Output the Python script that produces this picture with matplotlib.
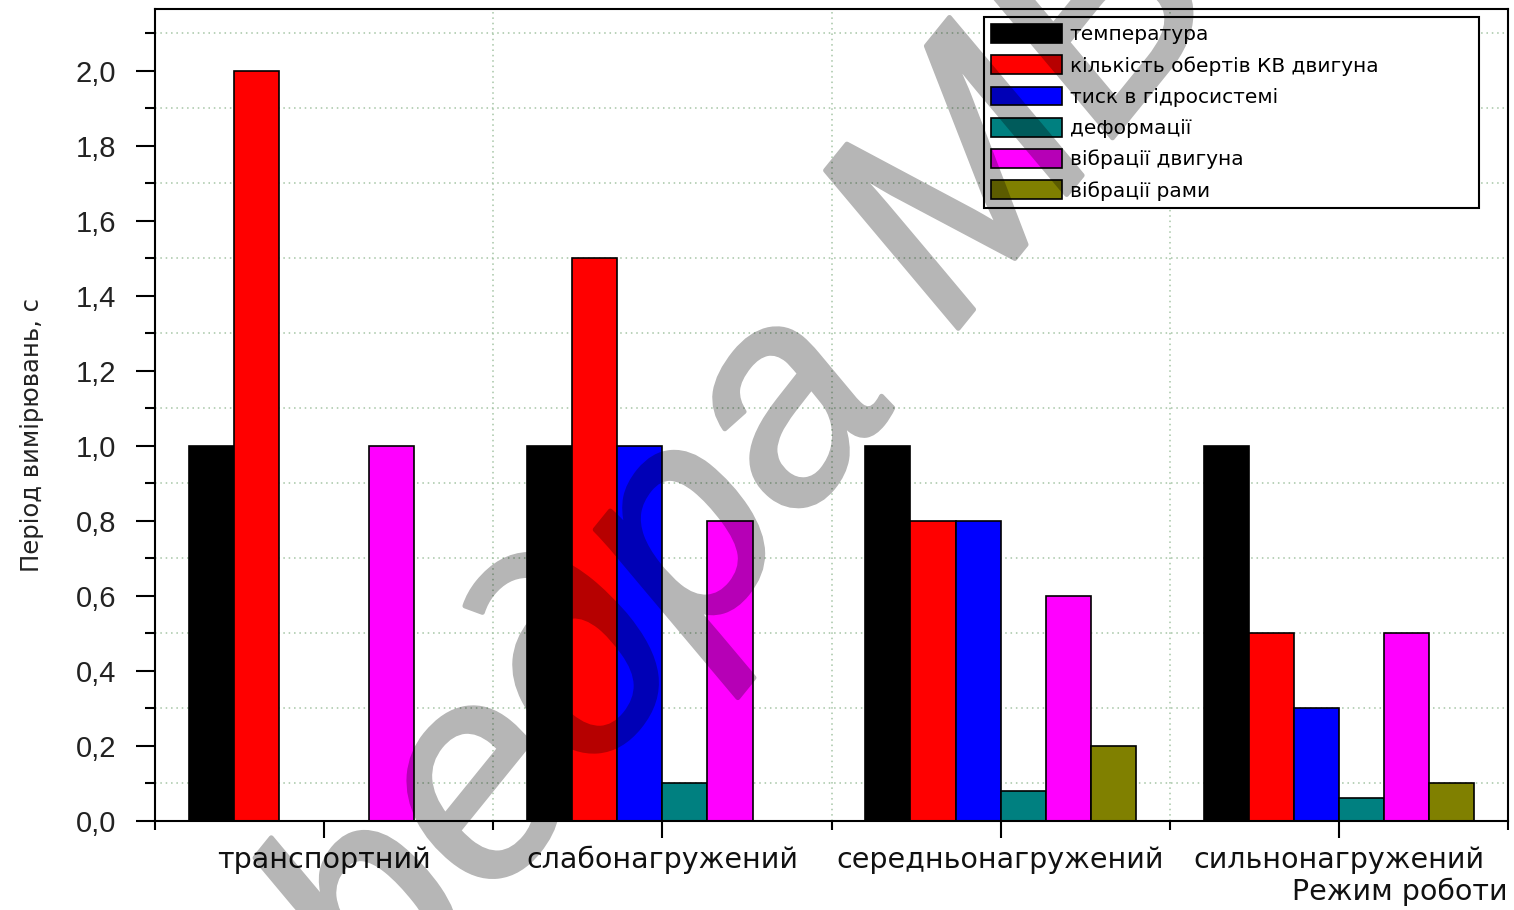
import numpy as np
import matplotlib
matplotlib.use('Agg')
import matplotlib.pyplot as plt
import matplotlib.patheffects as pe
from matplotlib.ticker import MultipleLocator, FixedLocator, FuncFormatter

# режими роботи та параметри, що вимірюються
modes = ['транспортний', 'слабонагружений', 'середньонагружений', 'сильнонагружений']
names = ['температура', 'кількість обертів КВ двигуна', 'тиск в гідросистемі',
         'деформації', 'вібрації двигуна', 'вібрації рами']

temperatura = [1.0, 1.0, 1.0, 1.0]
oberty = [2.0, 1.5, 0.8, 0.5]
tysk = [np.nan, 1.0, 0.8, 0.3]
deformatsii = [np.nan, 0.1, 0.08, 0.06]
vibr_dvyguna = [1.0, 0.8, 0.6, 0.5]
vibr_ramy = [np.nan, np.nan, 0.2, 0.1]

series = [temperatura, oberty, tysk, deformatsii, vibr_dvyguna, vibr_ramy]
colors = ['#000000', '#ff0000', '#0000ff', '#008080', '#ff00ff', '#808000']

fig = plt.figure(figsize=(15.14, 9.10), dpi=100)
ax = fig.add_axes([155/1514, 1-821/910, (1508-155)/1514, (821-9)/910])

x = np.arange(1, len(modes) + 1)
w = 0.8 / len(series)
for i, (vals, c, n) in enumerate(zip(series, colors, names)):
    ax.bar(x + (i - 2.5) * w, vals, w, color=c, edgecolor='black',
           linewidth=1.2, label=n, zorder=2)

ax.set_xlim(0.5, 4.5)
ax.set_ylim(0, 2.165)

# осі
ax.yaxis.set_major_locator(MultipleLocator(0.2))
ax.yaxis.set_minor_locator(MultipleLocator(0.1))
ax.yaxis.set_major_formatter(FuncFormatter(lambda v, p: f'{v:.1f}'.replace('.', ',')))
ax.xaxis.set_major_locator(FixedLocator(x))
ax.xaxis.set_minor_locator(FixedLocator([0.5, 1.5, 2.5, 3.5, 4.5]))
ax.set_xticklabels(modes)

for s in ax.spines.values():
    s.set_linewidth(1.5)

ax.tick_params(axis='y', which='major', length=14, width=1.5, pad=14,
               labelsize=21, labelcolor='#222222', labelfontfamily='Liberation Sans')
ax.tick_params(axis='y', which='minor', length=7, width=1.5)
ax.tick_params(axis='x', which='major', length=12, width=1.5, pad=6,
               labelsize=20.5, labelcolor='#111111', labelfontfamily='DejaVu Sans')
ax.tick_params(axis='x', which='minor', length=6.5, width=1.5)

# пунктирна сітка
ax.grid(which='minor', color='#a5c5a5', linestyle=(0, (1, 2.5)), linewidth=1.1)
ax.grid(which='major', visible=False)
ax.set_axisbelow(True)

ax.set_ylabel('Період вимірювань, с', fontsize=17.5, family='DejaVu Sans',
              color='#222222')
ax.yaxis.set_label_coords(-0.082, 0.475)
ax.set_xlabel('Режим роботи', fontsize=20.5, family='DejaVu Sans', color='#111111',
              loc='right', labelpad=2)

leg = ax.legend(loc='upper left', bbox_to_anchor=(984/1514, 1-209/910, 495/1514, 192/910),
                bbox_transform=fig.transFigure, mode='expand', borderaxespad=0,
                handlelength=3.5, handleheight=1.05, handletextpad=0.4,
                labelspacing=0.55, borderpad=0.35, fancybox=False, framealpha=1,
                edgecolor='black', prop={'family': 'DejaVu Sans', 'size': 14.5})
leg.get_frame().set_linewidth(1.5)


# водяний знак: малюється непрозорим, а прозорість додається фільтром,
# щоб обведення не накладалося на заливку
def fade(im, dpi):
    im = im.copy()
    im[..., 3] *= 0.29
    return im, 0, 0


wm = fig.text(0.414, 0.322, 'кафедра МБ', fontsize=212, family='Liberation Sans',
              style='italic', color='black', rotation=51,
              ha='center', va='center', rotation_mode='anchor', zorder=10)
wm.set_path_effects([pe.withStroke(linewidth=3.5, foreground='black')])
wm.set_agg_filter(fade)

fig.savefig('out.png', dpi=100)
